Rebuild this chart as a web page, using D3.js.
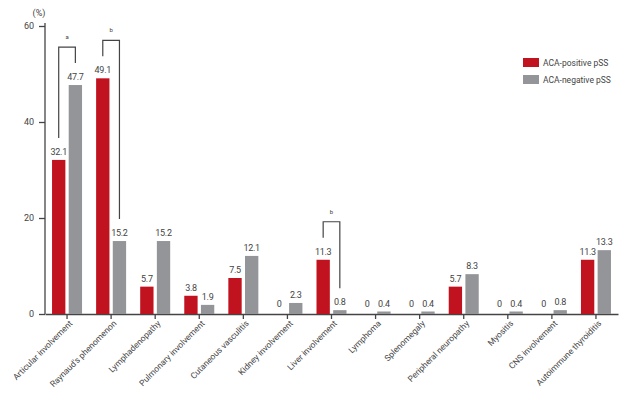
<!DOCTYPE html>
<html>
<head>
<meta charset="utf-8">
<script src="https://cdn.jsdelivr.net/npm/d3@7"></script>
<style>
    body { margin: 0; background: #fff; }
    text { font-family: Roboto, "Open Sans", sans-serif; fill: #444; }
</style>
</head>
<body>
<div id="chart"></div>
<script>
const categories = ["Articular involvement", "Raynaud's phenomenon", "Lymphadenopathy",
    "Pulmonary involvement", "Cutaneous vasculitis", "Kidney involvement", "Liver involvement",
    "Lymphoma", "Splenomegaly", "Peripheral neuropathy", "Myositis", "CNS involvement",
    "Autoimmune thyroiditis"]
const positive = [32.1, 49.1, 5.7, 3.8, 7.5, 0, 11.3, 0, 0, 5.7, 0, 0, 11.3]
const negative = [47.7, 15.2, 15.2, 1.9, 12.1, 2.3, 0.8, 0.4, 0.4, 8.3, 0.4, 0.8, 13.3]
const seriesNames = ["ACA-positive pSS", "ACA-negative pSS"]
const yTicks = [0, 20, 40, 60]
// significance brackets: category index and letter
const brackets = [{ cat: 0, letter: "a" }, { cat: 1, letter: "b" }, { cat: 6, letter: "b" }]

const width = 630, height = 395
const margin = { top: 26, right: 12, bottom: 81, left: 45 }
const colors = ["#c1121f", "#939598"]

const svg = d3.select("#chart").append("svg")
    .attr("width", width)
    .attr("height", height)

const x = d3.scaleBand()
    .domain(categories)
    .range([margin.left, width - margin.right])

const y = d3.scaleLinear()
    .domain([0, 60])
    .range([height - margin.bottom, margin.top])

const inner = d3.scaleBand()
    .domain([0, 1])
    .range([-15, 15])
    .paddingInner(0.2)

// axes
const yAxis = svg.append("g")
    .attr("transform", `translate(${margin.left},0)`)
    .call(d3.axisLeft(y).tickValues(yTicks).tickSize(6).tickPadding(5))
yAxis.select(".domain").attr("d", `M0,${y(60) - 3}V${y(0)}`)
yAxis.selectAll("line, path").attr("stroke", "#444").attr("stroke-width", 1.3)
yAxis.selectAll("text").style("font-size", "9px")

svg.append("text")
    .attr("x", 39)
    .attr("y", 16)
    .attr("text-anchor", "middle")
    .style("font-size", "9px")
    .text("(%)")

const xAxis = svg.append("g")
    .attr("transform", `translate(0,${y(0)})`)
    .call(d3.axisBottom(x).tickSize(5).tickSizeOuter(0))
xAxis.selectAll("line, path").attr("stroke", "#444").attr("stroke-width", 1.3)
xAxis.selectAll("text")
    .style("font-size", "8.5px")
    .attr("text-anchor", "end")
    .attr("transform", "translate(3,7) rotate(-45)")
    .attr("dy", "0.5em")
    .attr("y", 0)

// bars
const rows = categories.map((c, i) => ({ cat: c, vals: [positive[i], negative[i]] }))

const groups = svg.append("g")
    .selectAll("g")
    .data(rows)
    .enter()
    .append("g")
    .attr("transform", d => `translate(${x(d.cat) + x.bandwidth() / 2},0)`)

groups.selectAll("rect")
    .data(d => d.vals.map((v, k) => ({ v: v, k: k })))
    .enter()
    .append("rect")
    .attr("x", d => inner(d.k))
    .attr("width", inner.bandwidth())
    .attr("y", d => d.v > 0 ? Math.min(y(d.v), y(0) - 2.5) : y(0))
    .attr("height", d => d.v > 0 ? Math.max(y(0) - y(d.v), 2.5) : 0)
    .attr("fill", d => colors[d.k])

groups.selectAll("text")
    .data(d => d.vals.map((v, k) => ({ v: v, k: k })))
    .enter()
    .append("text")
    .attr("x", d => inner(d.k) + inner.bandwidth() / 2)
    .attr("y", d => Math.min(y(d.v), y(0) - 2.5) - 5)
    .attr("text-anchor", "middle")
    .style("font-size", "9px")
    .style("letter-spacing", "-0.3px")
    .text(d => d.v)

// significance brackets
brackets.forEach(function (b) {
    const cx = x(categories[b.cat]) + x.bandwidth() / 2
    const x0 = cx + inner(0) + inner.bandwidth() / 2
    const x1 = cx + inner(1) + inner.bandwidth() / 2
    const top = y(Math.max(positive[b.cat], negative[b.cat])) - 38
    const end0 = y(positive[b.cat]) - 22
    const end1 = y(negative[b.cat]) - 22
    svg.append("path")
        .attr("d", `M${x0},${end0}V${top}H${x1}V${end1}`)
        .attr("fill", "none")
        .attr("stroke", "#444")
        .attr("stroke-width", 1.2)
    svg.append("text")
        .attr("x", (x0 + x1) / 2)
        .attr("y", top - 8)
        .attr("text-anchor", "middle")
        .style("font-size", "6px")
        .text(b.letter)
})

// legend
const legend = svg.append("g")
    .selectAll("g")
    .data(seriesNames)
    .enter()
    .append("g")
    .attr("transform", (d, i) => `translate(523,${58 + i * 17})`)

legend.append("rect")
    .attr("width", 16)
    .attr("height", 9)
    .attr("fill", (d, i) => colors[i])

legend.append("text")
    .attr("x", 20)
    .attr("y", 5)
    .attr("dy", "0.35em")
    .style("font-size", "8.5px")
    .text(d => d)
</script>
</body>
</html>
